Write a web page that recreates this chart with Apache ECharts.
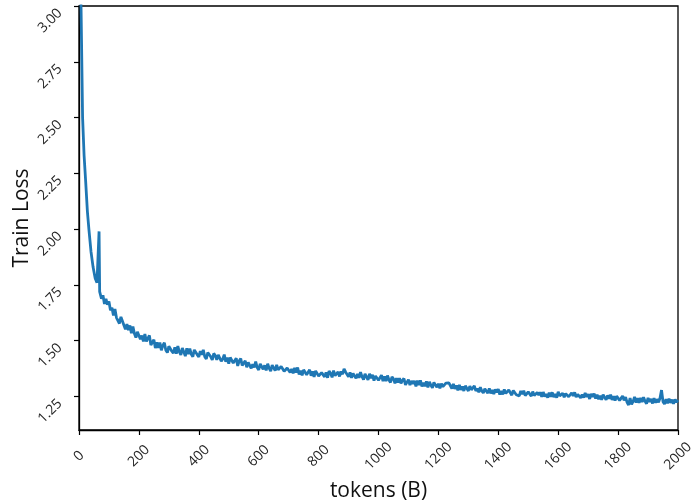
<!DOCTYPE html>
<html>
<head>
<meta charset="utf-8">
<script src="https://cdn.jsdelivr.net/npm/echarts@6/dist/echarts.min.js"></script>
<style>
html,body{margin:0;padding:0;background:#fff;}
#chart{width:691px;height:502px;}
</style>
</head>
<body>
<div id="chart"></div>
<script>
// Early steep descent (tokens in B, loss)
const earlyTokens = [0, 3, 7, 12, 17, 22, 28, 33, 40, 47, 54, 60, 64, 67, 69];
const earlyLoss   = [3.8, 3.25, 2.98, 2.5, 2.33, 2.22, 2.08, 2.0, 1.9, 1.83, 1.78, 1.76, 1.755, 1.99, 1.72];

// Noisy tail sampled every 5B starting at 70B
const tailStart = 70;
const tailStep = 5;
const tailLoss = [
  1.712, 1.688, 1.704, 1.665, 1.688, 1.662, 1.676, 1.637, 1.648, 1.613,
  1.642, 1.604, 1.612, 1.577, 1.607, 1.609, 1.569, 1.551, 1.574, 1.548,
  1.568, 1.534, 1.564, 1.532, 1.514, 1.540, 1.546, 1.507, 1.523, 1.497,
  1.530, 1.497, 1.511, 1.524, 1.481, 1.488, 1.505, 1.467, 1.493, 1.468,
  1.492, 1.457, 1.479, 1.491, 1.457, 1.447, 1.475, 1.481, 1.453, 1.444,
  1.470, 1.442, 1.476, 1.450, 1.436, 1.467, 1.460, 1.431, 1.466, 1.440,
  1.465, 1.439, 1.428, 1.459, 1.466, 1.437, 1.428, 1.453, 1.438, 1.459,
  1.428, 1.418, 1.447, 1.451, 1.428, 1.414, 1.443, 1.434, 1.414, 1.437,
  1.440, 1.408, 1.418, 1.438, 1.406, 1.425, 1.397, 1.425, 1.432, 1.400,
  1.398, 1.421, 1.387, 1.410, 1.420, 1.389, 1.396, 1.410, 1.381, 1.403,
  1.407, 1.376, 1.395, 1.380, 1.407, 1.380, 1.369, 1.396, 1.401, 1.372,
  1.390, 1.367, 1.397, 1.376, 1.364, 1.391, 1.383, 1.366, 1.392, 1.369,
  1.362, 1.385, 1.390, 1.363, 1.356, 1.378, 1.385, 1.358, 1.373, 1.354,
  1.378, 1.357, 1.380, 1.349, 1.366, 1.345, 1.370, 1.373, 1.348, 1.353,
  1.370, 1.343, 1.363, 1.338, 1.365, 1.369, 1.342, 1.335, 1.357, 1.362,
  1.338, 1.358, 1.334, 1.364, 1.354, 1.336, 1.366, 1.344, 1.336, 1.360,
  1.340, 1.362, 1.350, 1.374, 1.360, 1.368, 1.338, 1.358, 1.334, 1.353,
  1.359, 1.332, 1.351, 1.334, 1.359, 1.339, 1.326, 1.351, 1.344, 1.325,
  1.352, 1.332, 1.347, 1.321, 1.342, 1.350, 1.323, 1.331, 1.346, 1.319,
  1.340, 1.319, 1.344, 1.324, 1.313, 1.338, 1.329, 1.309, 1.332, 1.313,
  1.332, 1.309, 1.322, 1.331, 1.302, 1.309, 1.326, 1.301, 1.320, 1.307,
  1.320, 1.295, 1.321, 1.302, 1.322, 1.295, 1.311, 1.296, 1.318, 1.291,
  1.316, 1.300, 1.289, 1.313, 1.316, 1.292, 1.307, 1.287, 1.308, 1.294,
  1.294, 1.310, 1.318, 1.311, 1.318, 1.286, 1.306, 1.284, 1.300, 1.278,
  1.302, 1.280, 1.295, 1.275, 1.298, 1.292, 1.275, 1.297, 1.280, 1.274,
  1.298, 1.275, 1.286, 1.269, 1.292, 1.275, 1.266, 1.285, 1.288, 1.265,
  1.286, 1.264, 1.279, 1.261, 1.282, 1.268, 1.283, 1.259, 1.274, 1.260,
  1.282, 1.264, 1.257, 1.279, 1.272, 1.256, 1.277, 1.279, 1.258, 1.262,
  1.253, 1.275, 1.260, 1.276, 1.254, 1.251, 1.271, 1.267, 1.252, 1.272,
  1.255, 1.247, 1.268, 1.256, 1.269, 1.249, 1.270, 1.250, 1.261, 1.245,
  1.267, 1.249, 1.269, 1.247, 1.261, 1.245, 1.271, 1.253, 1.245, 1.265,
  1.247, 1.263, 1.269, 1.249, 1.243, 1.267, 1.253, 1.269, 1.247, 1.260,
  1.266, 1.244, 1.259, 1.245, 1.266, 1.248, 1.261, 1.239, 1.262, 1.248,
  1.263, 1.241, 1.258, 1.238, 1.253, 1.235, 1.258, 1.252, 1.235, 1.255,
  1.240, 1.258, 1.235, 1.251, 1.232, 1.252, 1.255, 1.233, 1.238, 1.252,
  1.233, 1.247, 1.224, 1.212, 1.243, 1.215, 1.228, 1.248, 1.223, 1.243,
  1.222, 1.244, 1.225, 1.247, 1.229, 1.218, 1.244, 1.226, 1.239, 1.219,
  1.243, 1.222, 1.238, 1.224, 1.243, 1.279, 1.227, 1.216, 1.238, 1.220,
  1.240, 1.222, 1.236, 1.218, 1.237, 1.225, 1.234
];

const xTicks = [0, 200, 400, 600, 800, 1000, 1200, 1400, 1600, 1800, 2000];
const yTicks = [1.25, 1.5, 1.75, 2.0, 2.25, 2.5, 2.75, 3.0];

const points = [];
earlyTokens.forEach((t, i) => points.push([t, earlyLoss[i]]));
tailLoss.forEach((v, i) => points.push([tailStart + i * tailStep, v]));

const FONT = '"Open Sans", "DejaVu Sans", sans-serif';
const chart = echarts.init(document.getElementById('chart'), null, {renderer: 'canvas'});
chart.setOption({
  animation: false,
  backgroundColor: '#ffffff',
  grid: {left: 79, right: 13, top: 6, bottom: 72, containLabel: false, outerBoundsMode: 'none',
         show: true, borderColor: '#000', borderWidth: 1.3, backgroundColor: 'transparent'},
  xAxis: {
    type: 'value', min: 0, max: 2000, interval: 200,
    name: 'tokens (B)', nameLocation: 'middle', nameGap: 61, nameMoveOverlap: false,
    nameTextStyle: {fontFamily: FONT, fontSize: 21, color: '#111', verticalAlign: 'middle'},
    axisLine: {show: true, lineStyle: {color: '#000', width: 1.3}},
    axisTick: {show: true, length: 5, lineStyle: {color: '#000', width: 1.2}, customValues: xTicks},
    axisLabel: {
      customValues: xTicks,
      rotate: 45, align: 'center', verticalAlign: 'middle', margin: 26,
      fontFamily: FONT, fontSize: 14, color: '#262626',
      formatter: v => String(v)
    },
    splitLine: {show: false}
  },
  yAxis: {
    type: 'value', min: 1.1, max: 3.0,
    name: 'Train Loss', nameLocation: 'middle', nameGap: 46, nameMoveOverlap: false,
    nameTextStyle: {fontFamily: FONT, fontSize: 21, color: '#111'},
    axisLine: {show: true, lineStyle: {color: '#000', width: 1.3}},
    axisTick: {show: true, length: 5, lineStyle: {color: '#000', width: 1.2}, customValues: yTicks},
    axisLabel: {
      customValues: yTicks,
      rotate: 45, align: 'right', verticalAlign: 'top', margin: 24,
      fontFamily: FONT, fontSize: 14, color: '#262626',
      formatter: v => v.toFixed(2)
    },
    splitLine: {show: false}
  },
  series: [{
    type: 'line',
    data: points,
    showSymbol: false,
    clip: true,
    lineStyle: {color: '#1f77b4', width: 2.8},
    itemStyle: {color: '#1f77b4'}
  }]
});
</script>
</body>
</html>
